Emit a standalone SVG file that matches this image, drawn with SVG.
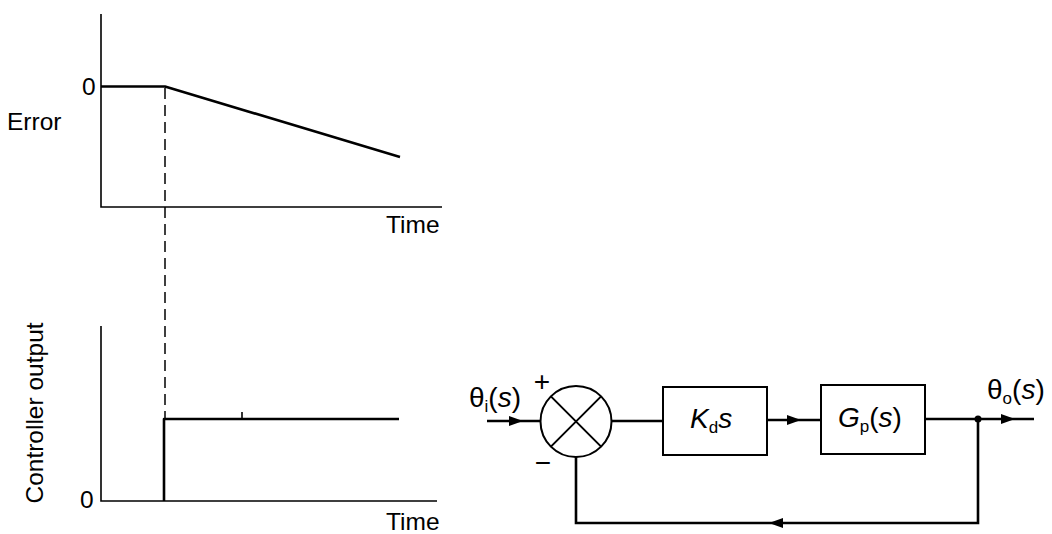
<svg xmlns="http://www.w3.org/2000/svg" width="1052" height="534" viewBox="0 0 1052 534">
  <style>
    .lbl { font-family: "Liberation Sans", Arial, sans-serif; font-size: 24.5px; fill: #000; }
    .math { font-family: "Liberation Sans", Arial, sans-serif; font-size: 28px; fill: #000; }
    .sub { font-size: 17px; }
    .sign { font-family: "Liberation Sans", Arial, sans-serif; font-size: 28px; fill: #000; text-anchor: middle; }
    .axis { stroke: #000; stroke-width: 1.6; fill: none; }
    .trace { stroke: #000; stroke-width: 2.6; fill: none; stroke-linejoin: round; }
    .dash { stroke: #000; stroke-width: 1.5; stroke-dasharray: 11 6; fill: none; }
    .wire { stroke: #000; stroke-width: 2.6; fill: none; }
    .box { stroke: #000; stroke-width: 2; fill: #fff; }
    .arrow { fill: #000; stroke: none; }
  </style>
  <defs>
    <!-- small arrowhead placed mid-wire, pointing right -->
    <path id="head" d="M -7 -5 L 7 0 L -7 5 Z"/>
  </defs>
  <rect width="1052" height="534" fill="#fff"/>

  <!-- Error vs time -->
  <g id="error-plot">
    <path class="axis" d="M 101 14 V 207 H 442"/>
    <path class="trace" d="M 101 86.5 H 165 L 400 157"/>
    <text class="lbl" x="82" y="95">0</text>
    <text class="lbl" x="7" y="130">Error</text>
    <text class="lbl" x="386" y="233">Time</text>
  </g>

  <!-- Dashed marker linking the two plots -->
  <path class="dash" d="M 165 88 V 418"/>

  <!-- Controller output vs time -->
  <g id="output-plot">
    <path class="axis" d="M 101 326 V 501 H 437"/>
    <path class="trace" d="M 164 501 V 419 H 399"/>
    <path class="axis" d="M 242 412 V 419" stroke-width="1"/>
    <text class="lbl" x="80" y="508">0</text>
    <text class="lbl" x="386" y="530">Time</text>
    <text class="lbl" font-size="25.5" text-anchor="middle" transform="translate(43,413) rotate(-90)">Controller output</text>
  </g>

  <!-- Block diagram: connectors -->
  <g id="connectors">
    <path class="wire" d="M 487 421 H 540.5"/>
    <path class="wire" d="M 611.5 421 H 663"/>
    <path class="wire" d="M 767 420 H 821"/>
    <path class="wire" d="M 925 419 H 1034"/>
    <path class="wire" d="M 978 419 V 523 H 576 V 457"/>
    <use href="#head" class="arrow" transform="translate(516,421)"/>
    <use href="#head" class="arrow" transform="translate(794,420)"/>
    <use href="#head" class="arrow" transform="translate(1008,419)"/>
    <use href="#head" class="arrow" transform="translate(776,523) rotate(180)"/>
    <circle cx="978" cy="419" r="3.5" fill="#000"/>
  </g>

  <!-- Summing junction -->
  <g id="sum">
    <circle cx="576" cy="421.5" r="35.5" fill="#fff" stroke="#000" stroke-width="2"/>
    <path d="M 550.9 396.4 L 601.1 446.6 M 601.1 396.4 L 550.9 446.6" stroke="#000" stroke-width="2"/>
    <text class="sign" x="542" y="391">+</text>
    <text class="sign" x="543" y="472">−</text>
  </g>

  <!-- Input signal label -->
  <g id="input">
    <text class="math" x="469" y="407">θ<tspan class="sub" dy="5">i</tspan><tspan dy="-5">(</tspan><tspan font-style="italic">s</tspan>)</text>
  </g>

  <!-- Derivative controller block -->
  <g id="controller">
    <rect class="box" x="663" y="387" width="104" height="68"/>
    <text class="math" x="690" y="428"><tspan font-style="italic">K</tspan><tspan class="sub" dy="5">d</tspan><tspan font-style="italic" dy="-5">s</tspan></text>
  </g>

  <!-- Plant block -->
  <g id="plant">
    <rect class="box" x="821" y="385" width="104" height="69"/>
    <text class="math" x="838" y="427"><tspan font-style="italic">G</tspan><tspan class="sub" dy="5">p</tspan><tspan dy="-5">(</tspan><tspan font-style="italic">s</tspan>)</text>
  </g>

  <!-- Output signal label -->
  <g id="output">
    <text class="math" x="987" y="399">θ<tspan class="sub" dy="5">o</tspan><tspan dy="-5">(</tspan><tspan font-style="italic">s</tspan>)</text>
  </g>
</svg>
